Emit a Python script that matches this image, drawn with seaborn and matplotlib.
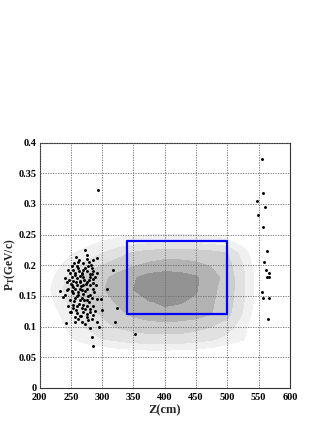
import numpy as np
import pandas as pd
import matplotlib
matplotlib.use("Agg")
import matplotlib.pyplot as plt
from matplotlib.ticker import MultipleLocator, FuncFormatter
import seaborn as sns

# density map (contour levels 1..5), rows = pt, columns = z
grid_z = [200, 225, 250, 275, 300, 325, 350, 375, 400, 425, 450, 475, 500, 525, 550, 575, 600]
grid_pt = [0.04, 0.06, 0.08, 0.10, 0.12, 0.14, 0.16, 0.18, 0.20, 0.22, 0.24, 0.26, 0.28]
density = [
    [0, 0, 0, 0, 0, 0, 0, 0, 0, 0, 0, 0, 0, 0, 0, 0, 0],
    [0, 0, 0, 0.2, 0.4, 0.6, 0.75, 0.85, 0.85, 0.8, 0.7, 0.5, 0.3, 0.1, 0, 0, 0],
    [0, 0, 0.9, 1.5, 2.0, 2.3, 2.6, 2.7, 2.7, 2.7, 2.5, 2.2, 1.6, 1.1, 0, 0, 0],
    [0, 0.4, 1.4, 2.1, 2.7, 3.1, 3.3, 3.4, 3.45, 3.4, 3.3, 3.0, 2.5, 1.4, 0, 0, 0],
    [0, 0.7, 1.7, 2.5, 3.1, 3.7, 4.2, 4.6, 4.83, 4.7, 4.4, 4.0, 3.3, 1.9, 0.2, 0, 0],
    [0, 1.1, 2.3, 3.2, 3.7, 4.1, 4.6, 4.95, 5.1, 5.05, 4.8, 4.1, 3.5, 2.1, 0.4, 0, 0],
    [0, 1.4, 2.6, 3.5, 3.9, 4.5, 5.0, 5.5, 5.6, 5.5, 5.1, 4.2, 3.6, 2.2, 0.4, 0, 0],
    [0, 1.1, 2.4, 3.4, 3.8, 4.3, 4.9, 5.4, 5.6, 5.5, 5.1, 4.4, 3.6, 2.2, 0.4, 0, 0],
    [0, 0.6, 1.6, 2.3, 3.0, 3.5, 3.9, 4.2, 4.33, 4.3, 4.2, 3.9, 3.4, 2.0, 0.3, 0, 0],
    [0, 0, 0.9, 1.4, 2.0, 2.6, 3.1, 3.4, 3.6, 3.6, 3.5, 3.3, 3.0, 1.5, 0, 0, 0],
    [0, 0, 0, 0.5, 0.95, 1.2, 1.4, 1.55, 1.6, 1.6, 1.55, 1.4, 1.1, 0.4, 0, 0, 0],
    [0, 0, 0, 0, 0.2, 0.3, 0.35, 0.4, 0.4, 0.4, 0.4, 0.35, 0.3, 0, 0, 0, 0],
    [0, 0, 0, 0, 0, 0, 0, 0, 0, 0, 0, 0, 0, 0, 0, 0, 0],
]
level_colors = ['#f0f0f0', '#e1e1e1', '#cdcdcd', '#b3b3b3', '#939393']

# measured events
evt_z = [272.6, 258.3, 275.3, 263.6, 285.9, 291.2, 255.6, 268.9, 279.5, 251.3,
         260.4, 272.6, 283.3, 246.0, 254.0, 263.6, 275.3, 285.9, 291.2, 248.7,
         256.7, 267.3, 280.6, 317.8, 240.7, 251.3, 259.3, 270.0, 280.6, 288.6,
         243.4, 254.0, 264.6, 275.3, 285.9, 249.7, 259.3, 270.0, 280.6, 232.7,
         246.0, 254.0, 264.6, 275.3, 284.9, 307.2, 240.7, 238.0, 254.0, 262.0,
         270.0, 280.6, 256.7, 264.6, 275.3, 297.6, 254.0, 259.3, 267.3, 275.3,
         285.9, 324.2, 248.7, 259.3, 270.0, 280.6, 299.2, 256.7, 264.6, 275.3,
         285.9, 242.3, 256.7, 278.0, 267.3, 294.4, 321.0, 284.3, 285.0, 352.4,
         249.8, 291.0, 293.9,
         262, 268, 271, 258, 266, 273, 261, 277, 268, 255,
         263, 272, 281, 258, 249, 244, 252, 279, 284, 277,
         265, 256, 287, 283, 290, 270, 276, 262, 273, 281,
         252, 247, 259, 268, 274, 286, 291, 266, 284, 253,
         246, 279, 271, 264, 257, 269, 262, 275, 282, 288,
         555.3, 557.4, 547.8, 560.0, 548.4, 557.4, 562.5, 559.0, 562.0, 566.5,
         563.7, 565.9, 554.8, 557.4, 565.9, 564.8]
evt_pt = [0.225, 0.213, 0.217, 0.209, 0.209, 0.211, 0.203, 0.203, 0.205, 0.198,
          0.198, 0.196, 0.195, 0.192, 0.192, 0.190, 0.190, 0.190, 0.187, 0.187,
          0.184, 0.185, 0.185, 0.193, 0.179, 0.180, 0.179, 0.180, 0.180, 0.181,
          0.173, 0.174, 0.173, 0.173, 0.171, 0.169, 0.168, 0.168, 0.167, 0.158,
          0.162, 0.164, 0.161, 0.162, 0.162, 0.162, 0.151, 0.149, 0.154, 0.152,
          0.153, 0.152, 0.146, 0.143, 0.143, 0.145, 0.135, 0.133, 0.131, 0.133,
          0.133, 0.131, 0.124, 0.122, 0.123, 0.123, 0.127, 0.116, 0.118, 0.116,
          0.119, 0.106, 0.107, 0.111, 0.108, 0.100, 0.108, 0.083, 0.068, 0.088,
          0.124, 0.108, 0.322,
          0.195, 0.188, 0.176, 0.172, 0.166, 0.158, 0.157, 0.150, 0.146, 0.141,
          0.137, 0.128, 0.128, 0.127, 0.143, 0.160, 0.167, 0.176, 0.185, 0.199,
          0.182, 0.188, 0.156, 0.146, 0.168, 0.135, 0.120, 0.112, 0.104, 0.098,
          0.158, 0.176, 0.150, 0.160, 0.169, 0.178, 0.145, 0.118, 0.112, 0.130,
          0.134, 0.140, 0.144, 0.174, 0.162, 0.192, 0.205, 0.210, 0.200, 0.125,
          0.373, 0.318, 0.305, 0.295, 0.282, 0.262, 0.224, 0.206, 0.193, 0.187,
          0.181, 0.180, 0.157, 0.147, 0.146, 0.113]

# selection window
box_z = [340, 500]
box_pt = [0.12, 0.24]

sns.set_style("white")
plt.rcParams['font.family'] = ['Liberation Serif', 'DejaVu Serif']
plt.rcParams['font.weight'] = 'bold'
plt.rcParams['mathtext.fontset'] = 'custom'
plt.rcParams['mathtext.rm'] = 'Liberation Serif:bold'
plt.rcParams['mathtext.it'] = 'Liberation Serif:bold'
plt.rcParams['mathtext.bf'] = 'Liberation Serif:bold'

fig = plt.figure(figsize=(3.27, 4.23), dpi=100)
ax = fig.add_axes([0.121, 0.083, 0.766, 0.580])

ax.contourf(grid_z, grid_pt, np.array(density), levels=[1, 2, 3, 4, 5, 10],
            colors=level_colors, zorder=0.5)

events = pd.DataFrame({'z': evt_z, 'pt': evt_pt})
sns.scatterplot(data=events, x='z', y='pt', color='black', s=4.5, linewidth=0,
                marker='o', ax=ax, zorder=3)

ax.plot([box_z[0], box_z[1], box_z[1], box_z[0], box_z[0]],
        [box_pt[0], box_pt[0], box_pt[1], box_pt[1], box_pt[0]],
        color='#0000ff', lw=1.6, zorder=4)

ax.set_xlim(200, 600)
ax.set_ylim(0, 0.4)
ax.xaxis.set_major_locator(MultipleLocator(50))
ax.xaxis.set_minor_locator(MultipleLocator(10))
ax.yaxis.set_major_locator(MultipleLocator(0.05))
ax.yaxis.set_minor_locator(MultipleLocator(0.01))
ax.yaxis.set_major_formatter(FuncFormatter(lambda v, p: '%g' % round(v, 3)))
ax.tick_params(which='both', direction='in', width=0.6, colors='black',
               labelsize=7.5)
ax.tick_params(which='major', length=4)
ax.tick_params(which='minor', length=2)
ax.tick_params(axis='x', pad=3.5)
ax.tick_params(axis='y', pad=2)
for lab in ax.get_xticklabels() + ax.get_yticklabels():
    lab.set_fontweight('bold')

ax.grid(True, which='major', linestyle=(0, (1.5, 1.5)), color='#6a6a6a', lw=0.6)
ax.set_axisbelow(False)
for sp in ax.spines.values():
    sp.set_color('#333333')
    sp.set_linewidth(0.8)

ax.set_xlabel('Z(cm)', fontsize=9, fontweight='bold')
ax.set_ylabel(r'P$_\mathrm{T}$(GeV/c)', fontsize=8.3, fontweight='bold')
ax.xaxis.set_label_coords(0.5, -0.065)
ax.yaxis.set_label_coords(-0.088, 0.5)

fig.savefig('out.png', dpi=100)
